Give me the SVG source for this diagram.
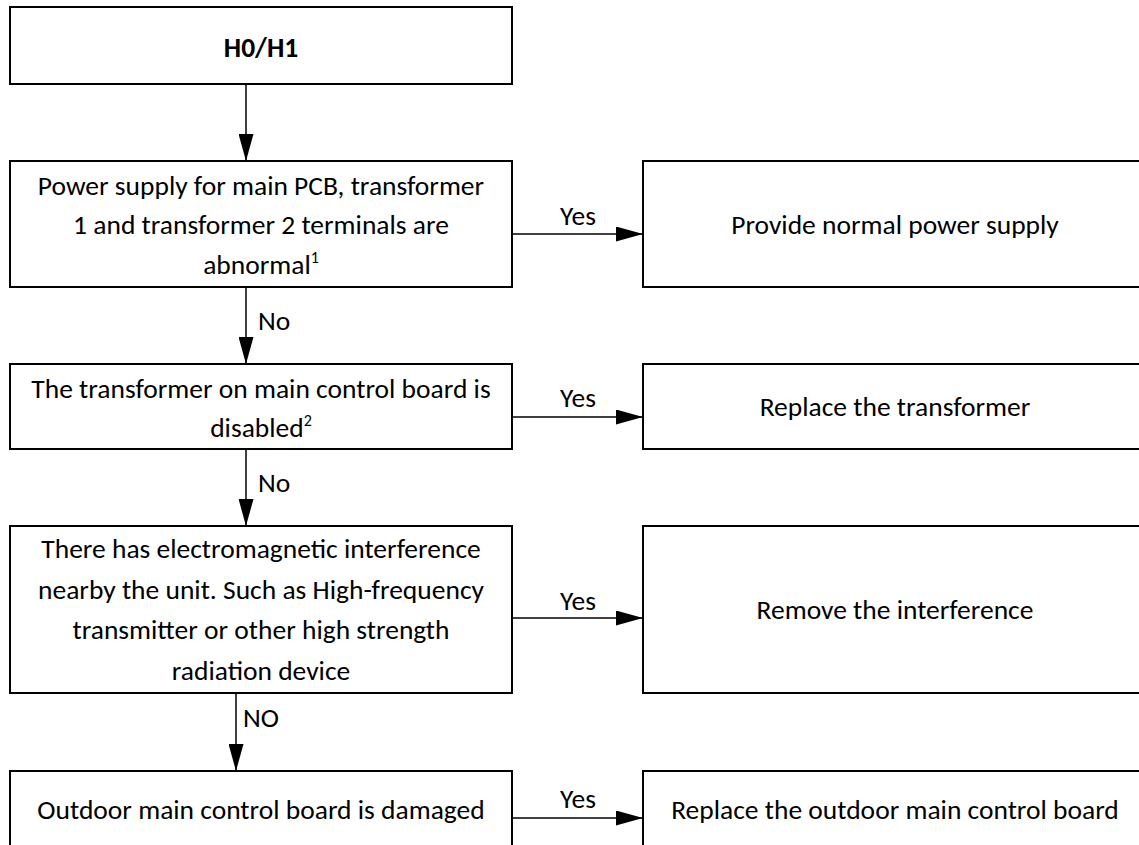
<svg xmlns="http://www.w3.org/2000/svg" width="1139" height="845" viewBox="0 0 1139 845">
<style>
  .box { fill: #ffffff; stroke: #000000; stroke-width: 2; }
  .t { font-family: Carlito, Lato, "Liberation Sans", sans-serif; font-size: 27.5px; fill: #000000; text-anchor: middle; }
  .lbl { font-family: Carlito, Lato, "Liberation Sans", sans-serif; font-size: 27.5px; fill: #000000; }
  .b { font-weight: bold; }
  .sup { font-size: 16px; }
  .conn { stroke: #000000; stroke-width: 1.5; fill: none; marker-end: url(#arrow); }
</style>
<defs>
  <marker id="arrow" markerUnits="userSpaceOnUse" markerWidth="27" markerHeight="15" refX="27" refY="7.5" orient="auto">
    <path d="M0,0 L27,7.5 L0,15 Z" fill="#000000"/>
  </marker>
</defs>
<rect width="1139" height="845" fill="#ffffff"/>

<g id="connectors">
  <line class="conn" x1="246" y1="84" x2="246" y2="161"/>
  <line class="conn" x1="512" y1="234" x2="643" y2="234"/>
  <line class="conn" x1="246" y1="287" x2="246" y2="364"/>
  <line class="conn" x1="512" y1="417" x2="643" y2="417"/>
  <line class="conn" x1="246" y1="449" x2="246" y2="526"/>
  <line class="conn" x1="512" y1="618" x2="643" y2="618"/>
  <line class="conn" x1="236" y1="693" x2="236" y2="771"/>
  <line class="conn" x1="512" y1="818" x2="643" y2="818"/>
  <text class="lbl" x="578" y="225" text-anchor="middle">Yes</text>
  <text class="lbl" x="578" y="407" text-anchor="middle">Yes</text>
  <text class="lbl" x="578" y="610" text-anchor="middle">Yes</text>
  <text class="lbl" x="578" y="808" text-anchor="middle">Yes</text>
  <text class="lbl" x="258" y="330">No</text>
  <text class="lbl" x="258" y="492">No</text>
  <text class="lbl" x="243" y="727">NO</text>
</g>

<g id="start">
  <rect class="box" x="10" y="7" width="502" height="77"/>
  <text class="t b" x="261" y="57">H0/H1</text>
</g>

<g id="check-power">
  <rect class="box" x="10" y="161" width="502" height="126"/>
  <text class="t" x="261" y="195">Power supply for main PCB, transformer</text>
  <text class="t" x="261" y="234">1 and transformer 2 terminals are</text>
  <text class="t" x="261" y="274">abnormal<tspan class="sup" dy="-11">1</tspan></text>
</g>

<g id="fix-power">
  <rect class="box" x="643" y="161" width="503" height="126"/>
  <text class="t" x="895" y="234">Provide normal power supply</text>
</g>

<g id="check-transformer">
  <rect class="box" x="10" y="364" width="502" height="85"/>
  <text class="t" x="261" y="398">The transformer on main control board is</text>
  <text class="t" x="261" y="437">disabled<tspan class="sup" dy="-11">2</tspan></text>
</g>

<g id="fix-transformer">
  <rect class="box" x="643" y="364" width="503" height="85"/>
  <text class="t" x="895" y="416">Replace the transformer</text>
</g>

<g id="check-interference">
  <rect class="box" x="10" y="526" width="502" height="167"/>
  <text class="t" x="261" y="558">There has electromagnetic interference</text>
  <text class="t" x="261" y="599">nearby the unit. Such as High-frequency</text>
  <text class="t" x="261" y="639">transmitter or other high strength</text>
  <text class="t" x="261" y="680">radiation device</text>
</g>

<g id="fix-interference">
  <rect class="box" x="643" y="526" width="503" height="167"/>
  <text class="t" x="895" y="619">Remove the interference</text>
</g>

<g id="check-board">
  <rect class="box" x="10" y="771" width="502" height="80"/>
  <text class="t" x="261" y="819">Outdoor main control board is damaged</text>
</g>

<g id="fix-board">
  <rect class="box" x="643" y="771" width="503" height="80"/>
  <text class="t" x="895" y="819">Replace the outdoor main control board</text>
</g>
</svg>
